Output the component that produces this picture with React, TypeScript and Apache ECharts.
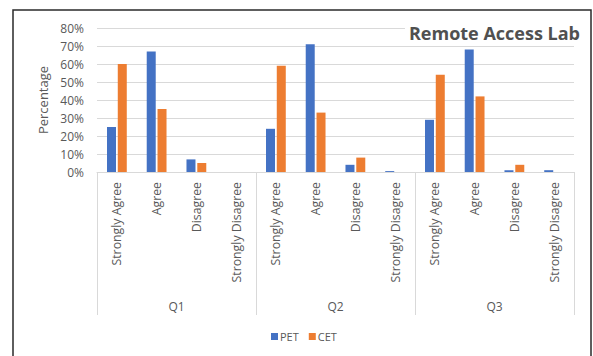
import React, { useEffect, useRef } from "react";
import * as echarts from "echarts";

const questions = ["Q1", "Q2", "Q3"];
const responses = ["Strongly Agree", "Agree", "Disagree", "Strongly Disagree"];
const categories = questions.flatMap((q) => responses.map((r) => `${q}|${r}`));

// Percentages per question, in the order of `responses`
const petQ1 = [25, 67, 7, 0];
const petQ2 = [24, 71, 4, 0.5];
const petQ3 = [29, 68, 1, 1];
const cetQ1 = [60, 35, 5, 0];
const cetQ2 = [59, 33, 8, 0];
const cetQ3 = [54, 42, 4, 0];

const petValues = [...petQ1, ...petQ2, ...petQ3];
const cetValues = [...cetQ1, ...cetQ2, ...cetQ3];

const yTicks = [0, 10, 20, 30, 40, 50, 60, 70, 80];

const TEXT = "#595959";
const GRID = "#d9d9d9";
const FONT = "'Open Sans', 'Noto Sans', sans-serif";

export default function App() {
  const ref = useRef<HTMLDivElement>(null);

  useEffect(() => {
    if (!ref.current) return;
    const chart = echarts.init(ref.current, undefined, { renderer: "svg" });
    chart.setOption({
      animation: false,
      backgroundColor: "#fff",
      textStyle: { fontFamily: FONT },
      title: {
        text: "Remote Access Lab",
        right: 9,
        top: 22,
        padding: [2, 4],
        backgroundColor: "#fff",
        textStyle: { fontSize: 18, fontWeight: "bold", color: "#505050", fontFamily: FONT },
      },
      legend: {
        left: 266,
        top: 326,
        itemWidth: 7,
        itemHeight: 7,
        itemGap: 10,
        icon: "rect",
        textStyle: { fontSize: 11, color: TEXT, padding: [0, 0, 0, -3] },
        data: ["PET", "CET"],
      },
      grid: { left: 97, right: 19, top: 28, bottom: 184, containLabel: false },
      xAxis: [
        {
          type: "category",
          data: categories,
          position: "bottom",
          axisLine: { show: true, lineStyle: { color: GRID } },
          axisTick: { show: false },
          axisLabel: {
            interval: 0,
            rotate: 90,
            margin: 10,
            fontSize: 12.3,
            color: TEXT,
            formatter: (v: string) => v.split("|")[1],
          },
        },
        {
          type: "category",
          data: questions,
          position: "bottom",
          axisLine: { show: false },
          axisTick: { show: true, interval: 0, length: 143, lineStyle: { color: GRID } },
          axisLabel: { interval: 0, margin: 128, fontSize: 12, color: TEXT },
        },
      ],
      yAxis: {
        type: "value",
        min: 0,
        max: 80,
        interval: 10,
        name: "Percentage",
        nameLocation: "middle",
        nameRotate: 90,
        nameGap: 41,
        nameTextStyle: { fontSize: 13, color: TEXT },
        axisLine: { show: false },
        axisTick: { show: false },
        splitLine: { lineStyle: { color: GRID } },
        axisLabel: {
          margin: 13,
          fontSize: 12,
          color: TEXT,
          formatter: (v: number) => (yTicks.includes(v) ? `${v}%` : ""),
        },
      },
      series: [
        {
          name: "PET",
          type: "bar",
          data: petValues,
          barWidth: 9,
          barGap: "20%",
          itemStyle: { color: "#4472C4" },
        },
        {
          name: "CET",
          type: "bar",
          data: cetValues,
          barWidth: 9,
          barGap: "20%",
          itemStyle: { color: "#ED7D31" },
        },
      ],
      graphic: [
        {
          type: "rect",
          shape: { x: 13, y: 10, width: 578, height: 360 },
          style: { fill: "none", stroke: "#2a2a2a", lineWidth: 1.5 },
          silent: true,
          z: 100,
        },
      ],
    });
    return () => chart.dispose();
  }, []);

  return (
    <div
      ref={ref}
      style={{ position: "fixed", left: 0, top: 0, width: 593, height: 356 }}
    />
  );
}
